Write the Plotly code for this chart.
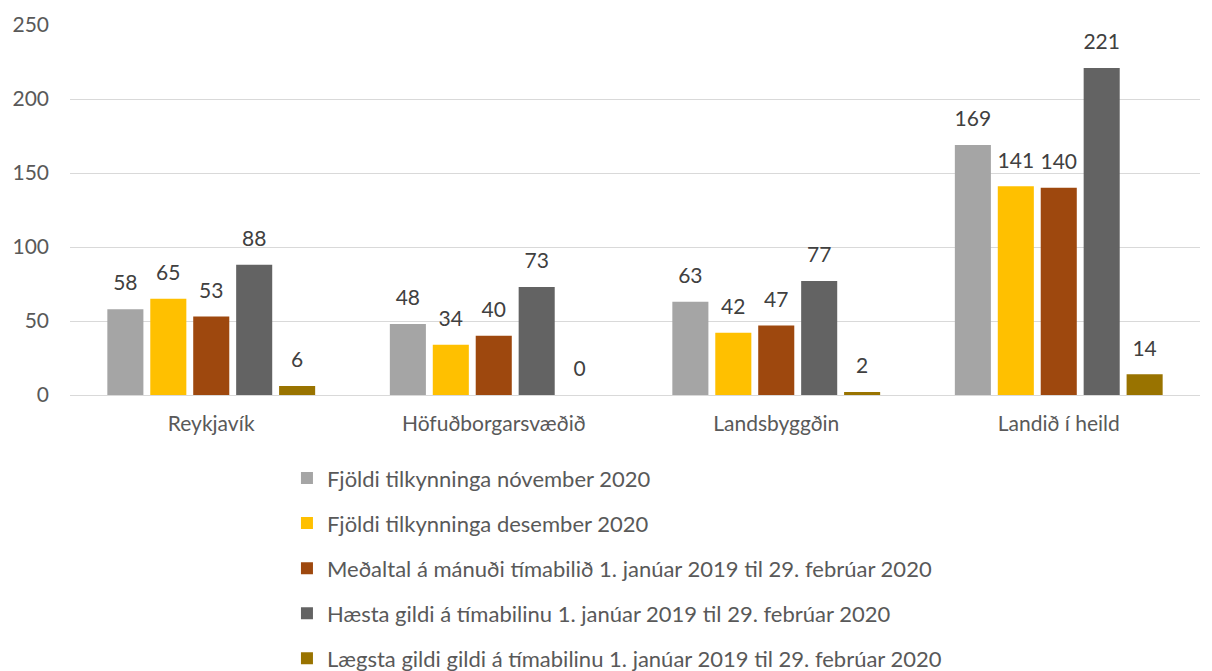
import plotly.graph_objects as go

categories = ["Reykjavík", "Höfuðborgarsvæðið", "Landsbyggðin", "Landið í heild"]
series_names = [
    "Fjöldi tilkynninga nóvember 2020",
    "Fjöldi tilkynninga desember 2020",
    "Meðaltal á mánuði tímabilið 1. janúar 2019 til 29. febrúar 2020",
    "Hæsta gildi á tímabilinu 1. janúar 2019 til 29. febrúar 2020",
    "Lægsta gildi gildi á tímabilinu 1. janúar 2019 til 29. febrúar 2020",
]
nov_2020 = [58, 48, 63, 169]
des_2020 = [65, 34, 42, 141]
medaltal = [53, 40, 47, 140]
haesta = [88, 73, 77, 221]
laegsta = [6, 0, 2, 14]
series_values = [nov_2020, des_2020, medaltal, haesta, laegsta]
colors = ["#A5A5A5", "#FFC000", "#9E480E", "#636363", "#997300"]
y_ticks = [0, 50, 100, 150, 200, 250]

FONT = "Lato, 'Open Sans', sans-serif"

fig = go.Figure()
for i, (name, vals, col) in enumerate(zip(series_names, series_values, colors)):
    fig.add_trace(go.Bar(
        x=categories, y=vals, name=name,
        marker=dict(color=col, line=dict(width=0)),
        offsetgroup=str(i), legendgroup=f"g{i}",
    ))
for i, vals in enumerate(series_values):
    fig.add_trace(go.Scatter(
        x=categories, y=vals, mode="markers+text",
        text=[str(v) for v in vals], textposition="top center",
        textfont=dict(size=21, color="#404040", family=FONT),
        marker=dict(size=20, opacity=0, color="white"),
        offsetgroup=str(i), showlegend=False, hoverinfo="skip",
        cliponaxis=False,
    ))

fig.update_layout(
    width=1204, height=663,
    margin=dict(l=62, r=12, t=17, b=276, autoexpand=False),
    paper_bgcolor="white", plot_bgcolor="white",
    barmode="group", bargap=0.24, bargroupgap=0.16,
    scattermode="group", scattergap=0.24,
    font=dict(family=FONT, size=21, color="#595959"),
    showlegend=True,
    legend=dict(
        orientation="v", x=0.192, xanchor="left", y=-0.168, yanchor="top",
        font=dict(size=22, color="#595959", family=FONT),
        tracegroupgap=13.5, itemwidth=30,
    ),
    xaxis=dict(showgrid=False, showline=True, linecolor="#D9D9D9", linewidth=1,
               ticks="", tickfont=dict(size=21, color="#595959"),
               ticklabelstandoff=10),
    yaxis=dict(range=[0, 250], tickvals=y_ticks, showgrid=True, gridcolor="#D9D9D9",
               gridwidth=1, zeroline=False, showline=False, ticks="",
               tickfont=dict(size=21, color="#595959"), ticklabelstandoff=20),
)

fig.write_html("out.html")
